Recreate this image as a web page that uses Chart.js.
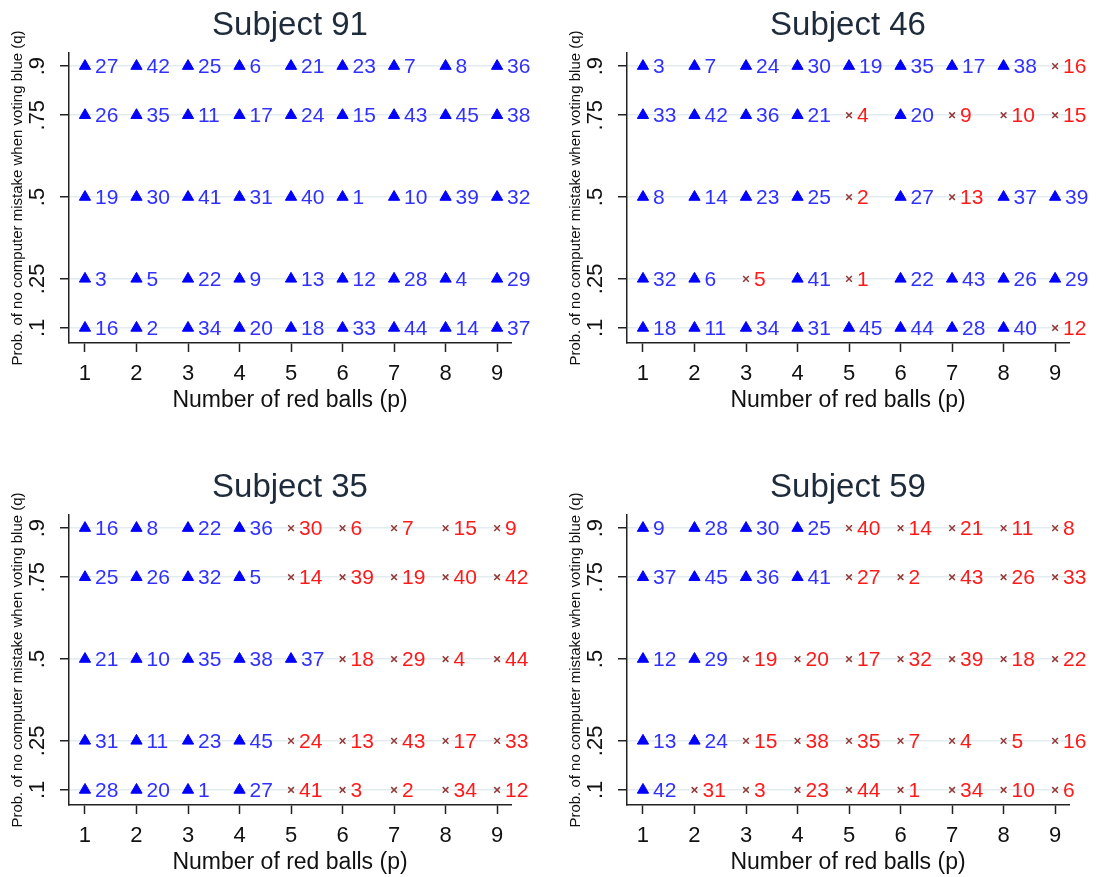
<!DOCTYPE html>
<html><head><meta charset="utf-8">
<script src="https://cdn.jsdelivr.net/npm/chart.js@4.4.0/dist/chart.umd.min.js"></script>
<style>
html,body{margin:0;padding:0;background:#fff;width:1096px;height:877px;overflow:hidden;}
canvas{position:absolute;}
</style></head><body>
<canvas id="c1" width="548" height="415" style="left:0px;top:0px"></canvas>
<canvas id="c2" width="538" height="415" style="left:558px;top:0px"></canvas>
<canvas id="c3" width="548" height="415" style="left:0px;top:462px"></canvas>
<canvas id="c4" width="538" height="415" style="left:558px;top:462px"></canvas>
<script>
// ---- data ----
const pValues = [1, 2, 3, 4, 5, 6, 7, 8, 9];
const pTickLabels = ['1', '2', '3', '4', '5', '6', '7', '8', '9'];
const qValues = [0.9, 0.75, 0.5, 0.25, 0.1];
const qTickLabels = ['.9', '.75', '.5', '.25', '.1'];
const xTitle = 'Number of red balls (p)';
const yTitle = 'Prob. of no computer mistake when voting blue (q)';
const subjectNames = ['Subject 91', 'Subject 46', 'Subject 35', 'Subject 59'];

// rows follow qValues, columns follow pValues
const s91Ids = [[27,42,25,6,21,23,7,8,36],[26,35,11,17,24,15,43,45,38],[19,30,41,31,40,1,10,39,32],[3,5,22,9,13,12,28,4,29],[16,2,34,20,18,33,44,14,37]];
const s91Votes = ['BBBBBBBBB','BBBBBBBBB','BBBBBBBBB','BBBBBBBBB','BBBBBBBBB'];
const s46Ids = [[3,7,24,30,19,35,17,38,16],[33,42,36,21,4,20,9,10,15],[8,14,23,25,2,27,13,37,39],[32,6,5,41,1,22,43,26,29],[18,11,34,31,45,44,28,40,12]];
const s46Votes = ['BBBBBBBBR','BBBBRBRRR','BBBBRBRBB','BBRBRBBBB','BBBBBBBBR'];
const s35Ids = [[16,8,22,36,30,6,7,15,9],[25,26,32,5,14,39,19,40,42],[21,10,35,38,37,18,29,4,44],[31,11,23,45,24,13,43,17,33],[28,20,1,27,41,3,2,34,12]];
const s35Votes = ['BBBBRRRRR','BBBBRRRRR','BBBBBRRRR','BBBBRRRRR','BBBBRRRRR'];
const s59Ids = [[9,28,30,25,40,14,21,11,8],[37,45,36,41,27,2,43,26,33],[12,29,19,20,17,32,39,18,22],[13,24,15,38,35,7,4,5,16],[42,31,3,23,44,1,34,10,6]];
const s59Votes = ['BBBBRRRRR','BBBBRRRRR','BBRRRRRRR','BBRRRRRRR','BRRRRRRRR'];

// ---- styling ----
const FONT = "'Liberation Sans', Arial, sans-serif";
const BLUE_MARK = '#0000ff', BLUE_TEXT = '#3030ff';
const RED_MARK = '#943838', RED_TEXT = '#ff1a1a';

function buildPoints(ids, votes, which) {
  const pts = [];
  qValues.forEach((q, r) => {
    pValues.forEach((p, c) => {
      if (votes[r][c] === which) pts.push({x: p, y: q, id: ids[r][c]});
    });
  });
  return pts;
}

const labelPlugin = {
  id: 'ptLabels',
  afterDatasetsDraw(chart) {
    const ctx = chart.ctx;
    chart.data.datasets.forEach((ds, i) => {
      const meta = chart.getDatasetMeta(i);
      ctx.save();
      ctx.font = '21px ' + FONT;
      ctx.fillStyle = ds.labelColor;
      ctx.textBaseline = 'middle';
      ctx.textAlign = 'left';
      meta.data.forEach((el, j) => {
        ctx.fillText(String(ds.data[j].id), el.x + ds.labelOffset, el.y + 1);
      });
      ctx.restore();
    });
  }
};

function makeChart(id, title, ids, votes, rightPad) {
  new Chart(document.getElementById(id), {
    type: 'scatter',
    data: {
      datasets: [
        {data: buildPoints(ids, votes, 'B'), pointStyle: 'triangle', pointRadius: 6.5, pointBorderWidth: 1,
         backgroundColor: BLUE_MARK, borderColor: BLUE_MARK, labelColor: BLUE_TEXT, labelOffset: 10},
        {data: buildPoints(ids, votes, 'R'), pointStyle: 'crossRot', pointRadius: 4, pointBorderWidth: 1.5,
         backgroundColor: RED_MARK, borderColor: RED_MARK, labelColor: RED_TEXT, labelOffset: 8}
      ]
    },
    options: {
      responsive: false, animation: false, events: [],
      layout: {padding: {left: 0, right: rightPad, top: 0, bottom: 0}},
      plugins: {
        legend: {display: false}, tooltip: {enabled: false},
        title: {display: true, text: title, fullSize: false, color: '#1e2b3a',
                font: {family: FONT, size: 33, weight: 'normal'}, padding: {top: 6, bottom: 7.4}}
      },
      scales: {
        x: {
          type: 'linear', min: 0.69, max: 9.27,
          afterBuildTicks: s => { s.ticks = pValues.map(v => ({value: v})); },
          afterFit: s => { s.height = 72; },
          ticks: {autoSkip: false, color: '#111', font: {family: FONT, size: 22}, padding: 9,
                  callback: (v) => pTickLabels[pValues.indexOf(v)], maxRotation: 0, minRotation: 0},
          grid: {drawOnChartArea: false, tickLength: 9, tickColor: '#222', tickWidth: 1.5},
          border: {display: true, color: '#222', width: 1.5},
          title: {display: true, text: xTitle, color: '#111', font: {family: FONT, size: 23}, padding: {top: 0, bottom: 1}}
        },
        y: {
          type: 'linear', min: 0.054, max: 0.94,
          afterBuildTicks: s => { s.ticks = qValues.map(v => ({value: v})); },
          afterFit: s => { s.width = 69; },
          ticks: {autoSkip: false, color: '#111', font: {family: FONT, size: 22}, padding: 7,
                  minRotation: 90, maxRotation: 90, crossAlign: 'center',
                  callback: (v) => qTickLabels[qValues.indexOf(v)]},
          grid: {color: '#e2ecef', lineWidth: 1.5, tickLength: 9, tickColor: '#222', tickWidth: 1.5},
          border: {display: true, color: '#222', width: 1.5},
          title: {display: true, text: yTitle, color: '#111', font: {family: FONT, size: 15}, padding: {top: 9, bottom: 0}}
        }
      }
    },
    plugins: [labelPlugin]
  });
}

makeChart('c1', subjectNames[0], s91Ids, s91Votes, 37);
makeChart('c2', subjectNames[1], s46Ids, s46Votes, 27);
makeChart('c3', subjectNames[2], s35Ids, s35Votes, 37);
makeChart('c4', subjectNames[3], s59Ids, s59Votes, 27);
</script>
</body></html>
